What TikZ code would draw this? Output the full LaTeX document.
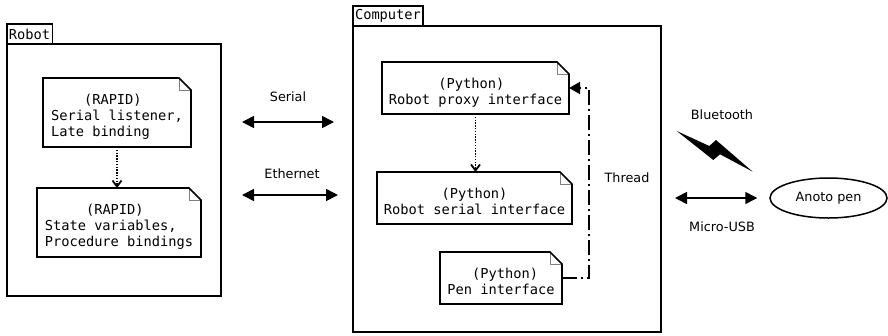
\documentclass[tikz,border=0pt]{standalone}
\usepackage{fontspec}
\setmainfont{DejaVu Sans}
\setmonofont{DejaVu Sans Mono}
\usetikzlibrary{arrows.meta, positioning, shapes.geometric}
\newcommand{\monotext}{\ttfamily\fontsize{13.7}{16}\selectfont}
\newcommand{\labeltext}{\fontsize{12.8}{15}\selectfont}
% note text sits a little below the middle of its box
\newcommand{\notetext}[1]{\raisebox{-5pt}[\height][\depth]{%
  \begin{tabular}{@{}l@{}}#1\end{tabular}}}
\tikzset{
  frame/.style={rectangle, draw, line width=1.8pt, inner sep=0pt, outer sep=0pt},
  tab/.style={rectangle, draw, line width=1.2pt, inner xsep=2pt, inner ysep=0pt,
              outer sep=0pt, minimum height=20pt, anchor=south west, font=\monotext},
  notebox/.style={rectangle, minimum width=#1, minimum height=52pt, inner sep=0pt,
                  outer sep=0pt, font=\monotext,
    append after command={\pgfextra{\let\notenode\tikzlastnode
      \draw[gray, line width=0.8pt] ([xshift=-12pt]\notenode.north east)
        |- ([yshift=-12pt]\notenode.north east);
      \draw[line width=1.6pt, line join=miter] (\notenode.north west)
        -- ([xshift=-12pt]\notenode.north east) -- ([yshift=-12pt]\notenode.north east)
        -- (\notenode.south east) -- (\notenode.south west) -- cycle;}}},
  uses/.style={line width=1.8pt, dash pattern=on 1.4pt off 1.4pt,
               -{Straight Barb[length=6pt, width=9pt]}},
  link/.style={{Triangle[length=12pt, width=12pt]}-{Triangle[length=12pt, width=12pt]},
               line width=1.6pt},
  thread/.style={line width=1.4pt, dash pattern=on 15pt off 4pt on 2pt off 4pt,
                 -{Triangle[length=11pt, width=12pt]}},
}

\begin{document}
\begin{tikzpicture}[x=1pt, y=-1pt, every node/.style={font=\labeltext}]
  \useasboundingbox (0,0) rectangle (888,335);

  % robot controller
  \node[frame, minimum width=214pt, minimum height=252pt] (robot) at (114,170) {};
  \node[tab] (robottab) at (robot.north west) {Robot};
  \node[notebox=148pt, minimum height=69pt] (listener) at (117,112.5)
    {\notetext{\hphantom{XXXX}(RAPID)\\Serial listener,\\Late binding}};
  \node[notebox=164pt, minimum height=69pt] (state) at (119,222.5)
    {\notetext{\hphantom{XXXXX}(RAPID)\\State variables,\\Procedure bindings}};
  \draw[uses] (listener.south) -- (listener.south |- state.north);

  % host computer
  \node[frame, minimum width=308pt, minimum height=306pt] (computer) at (507,179) {};
  \node[tab] (computertab) at (computer.north west) {Computer};
  \node[notebox=187pt] (proxy) at (475.5,88)
    {\notetext{\hphantom{XXXXXX}(Python)\\Robot proxy interface}};
  \node[notebox=195pt] (serialif) at (474.5,198)
    {\notetext{\hphantom{XXXXXXX}(Python)\\Robot serial interface}};
  \node[notebox=122pt] (penif) at (501,278)
    {\notetext{\hphantom{XXX}(Python)\\Pen interface}};
  \draw[uses] (proxy.south) -- (proxy.south |- serialif.north);
  \draw[thread] (penif.east) -- ++(27,0) |- (proxy.east);
  \node (threadlbl) at (627,178) {Thread};

  % robot <-> computer links
  \coordinate (serialA) at (242,122);
  \coordinate (serialB) at (334,122);
  \coordinate (etherA) at (242,195);
  \coordinate (etherB) at (338,195);
  \draw[link] (serialA) -- (serialB);
  \draw[link] (etherA) -- (etherB);
  \node (seriallbl) at (288,97) {Serial};
  \node (etherlbl) at (292,174) {Ethernet};

  % pen
  \node[ellipse, draw, line width=1.5pt, minimum width=117pt, minimum height=40pt,
        inner sep=0pt] (pen) at (828.5,198) {Anoto pen};
  \coordinate (usbA) at (675,198);
  \draw[link] (usbA) -- ([xshift=-12pt]pen.west);
  \node (usblbl) at (722,227) {Micro-USB};
  \node (btlbl) at (722,115) {Bluetooth};
  \fill (676.7,131) -- (709.3,146) -- (716,140) -- (752.7,171.7) -- (720,154.3)
    -- (713.3,160) -- cycle;
\end{tikzpicture}
\end{document}
